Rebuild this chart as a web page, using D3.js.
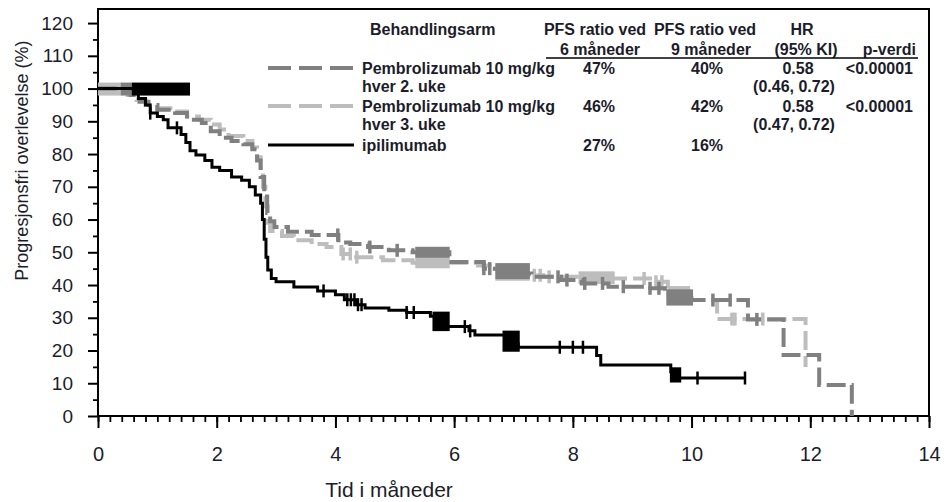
<!DOCTYPE html>
<html>
<head>
<meta charset="utf-8">
<script src="https://cdn.jsdelivr.net/npm/d3@7"></script>
<style>
  body { margin: 0; background: #fff; }
  svg { display: block; font-family: "Liberation Sans", Arial, sans-serif; }
</style>
</head>
<body>
<svg id="chart" width="948" height="502"></svg>
<script>
// Kaplan-Meier steps: [month, % progression free]
const pembroQ2wSteps = [
  [0, 100], [0.55, 98], [0.7, 96], [0.85, 95], [1.0, 93.5], [1.3, 92.5], [1.5, 90.5],
  [1.75, 89.5], [1.9, 87], [2.05, 85], [2.25, 84], [2.45, 83], [2.6, 81.5], [2.68, 78],
  [2.74, 73], [2.8, 67], [2.85, 62], [2.9, 59.5], [2.97, 57.7], [3.2, 56.3], [3.6, 55.3],
  [4.05, 53], [4.25, 52.5], [4.55, 51.6], [4.9, 50.6], [5.3, 50], [5.92, 47], [6.5, 45],
  [6.75, 43.5], [7.3, 42.5], [7.8, 41.5], [8.15, 40.5], [8.6, 39.5], [9.2, 39], [9.55, 37],
  [9.8, 35.4], [10.95, 29.5], [11.55, 18.6], [12.15, 9.5], [12.7, 0]
];
const pembroQ3wSteps = [
  [0, 100], [0.5, 98], [0.65, 96.5], [0.8, 95], [1.0, 94], [1.3, 93], [1.5, 91.5],
  [1.7, 90.5], [1.9, 89], [2.05, 87.5], [2.2, 85.5], [2.45, 84], [2.6, 82], [2.68, 79],
  [2.74, 75], [2.78, 70], [2.82, 64], [2.86, 59], [2.9, 56.5], [3.1, 55], [3.3, 53.7],
  [3.6, 52.5], [3.85, 51.6], [4.1, 49.5], [4.35, 48.5], [4.8, 47.6], [5.3, 46.8], [6.4, 46],
  [6.6, 45], [6.8, 44], [7.1, 43], [7.5, 42.5], [8.4, 42], [9.3, 41], [9.6, 38], [9.8, 36],
  [10.0, 35.4], [10.43, 29.6], [11.92, 15]
];
const ipiSteps = [
  [0, 100], [0.6, 98.5], [0.68, 97], [0.8, 95], [0.88, 92.5], [1.0, 91.5], [1.1, 90.5],
  [1.18, 88], [1.4, 86], [1.48, 83.5], [1.55, 81], [1.65, 79.7], [1.8, 78], [1.92, 76],
  [2.05, 75], [2.25, 73], [2.42, 72], [2.55, 70], [2.65, 67.5], [2.74, 65], [2.77, 60],
  [2.8, 54], [2.83, 48.5], [2.86, 44.6], [2.92, 42], [3.0, 41], [3.3, 39.4], [3.7, 38.2],
  [4.0, 37], [4.15, 35.5], [4.35, 34], [4.5, 33], [4.9, 32.3], [5.2, 31.6], [5.6, 30.5],
  [5.75, 29], [5.88, 27.3], [6.25, 26], [6.35, 24.7], [6.85, 23.5], [6.95, 22], [7.08, 21],
  [8.4, 18.5], [8.47, 15.6], [9.65, 13.5], [9.78, 11.6], [10.9, 11.6]
];

// censored observations (single ticks) and dense clusters [from, to]
const pembroQ2wCensor = [4.04, 4.58, 5.04, 6.5, 6.6, 7.75, 7.9, 8.2, 8.5, 8.85, 9.3, 9.45, 10.36, 10.65, 11.1];
const pembroQ3wCensor = [4.13, 4.25, 4.36, 7.35, 7.45, 7.6, 9.2, 9.4, 9.5, 10.68, 10.73, 11.2];
const ipiCensor = [0.88, 1.33, 3.8, 4.2, 4.26, 4.32, 4.38, 4.44, 5.2, 5.32, 6.18, 6.27,
  7.78, 8.0, 8.17, 10.1, 10.9];
const pembroQ2wClusters = [[5.37, 5.9], [6.72, 7.25], [9.6, 10.0]];
const pembroQ3wClusters = [[5.37, 5.9], [6.72, 7.25], [8.12, 8.68], [9.62, 9.95]];
const ipiClusters = [[5.66, 5.9], [6.84, 7.08], [9.66, 9.8]];
// blocks of early censoring drawn at the 100 % level
const earlyBlocks = [
  { arm: "q3w", from: 0.0, to: 0.38, level: 100 },
  { arm: "q2w", from: 0.38, to: 0.57, level: 100 },
  { arm: "ipi", from: 0.57, to: 1.55, level: 100 }
];

const xTicks = [0, 2, 4, 6, 8, 10, 12, 14];
const yTicks = [0, 10, 20, 30, 40, 50, 60, 70, 80, 90, 100, 110, 120];

const headerRow1 = ["Behandlingsarm", "PFS ratio ved", "PFS ratio ved", "HR"];
const headerRow2 = ["6 måneder", "9 måneder", "(95% KI)", "p-verdi"];
const armLabels = [["Pembrolizumab 10 mg/kg", "hver 2. uke"], ["Pembrolizumab 10 mg/kg", "hver 3. uke"], ["ipilimumab"]];
const pfs6 = ["47%", "46%", "27%"];
const pfs9 = ["40%", "42%", "16%"];
const hr = ["0.58", "0.58", ""];
const hrCI = ["(0.46, 0.72)", "(0.47, 0.72)", ""];
const pValue = ["<0.00001", "<0.00001", ""];

const arms = {
  q2w: { steps: pembroQ2wSteps, censor: pembroQ2wCensor, clusters: pembroQ2wClusters, color: "#808080", width: 4, dash: "19,6", half: 5.5 },
  q3w: { steps: pembroQ3wSteps, censor: pembroQ3wCensor, clusters: pembroQ3wClusters, color: "#bdbdbd", width: 4, dash: "19,6", half: 5.5 },
  ipi: { steps: ipiSteps, censor: ipiCensor, clusters: ipiClusters, color: "#000000", width: 3, dash: null, half: 4.5 }
};
const drawOrder = ["q3w", "q2w", "ipi"];
const legendOrder = ["q2w", "q3w", "ipi"];

const margin = { top: 9, right: 19, bottom: 86, left: 98 };
const svg = d3.select("#chart");
const width = 948 - margin.left - margin.right;
const height = 502 - margin.top - margin.bottom;

const x = d3.scaleLinear().domain([0, 14]).range([0, width]);
const y = d3.scaleLinear().domain([0, 124.3]).range([height, 0]);

const g = svg.append("g").attr("transform", `translate(${margin.left},${margin.top})`);

function survAt(steps, t) {
  let s = steps[0][1];
  for (const [tt, v] of steps) { if (tt <= t) s = v; else break; }
  return s;
}

// frame
g.append("rect")
  .attr("width", width).attr("height", height)
  .attr("fill", "none").attr("stroke", "#000").attr("stroke-width", 2);

// minor ticks
g.append("g")
  .attr("transform", `translate(0,${height})`)
  .call(d3.axisBottom(x).tickValues(d3.range(0, 14.001, 0.2)).tickSize(6).tickFormat(""))
  .call(a => a.select(".domain").remove())
  .call(a => a.selectAll("line").attr("stroke-width", 1.8));
g.append("g")
  .call(d3.axisLeft(y).tickValues(d3.range(5, 121, 10)).tickSize(5).tickFormat(""))
  .call(a => a.select(".domain").remove())
  .call(a => a.selectAll("line").attr("stroke-width", 1.8));

// major ticks
g.append("g")
  .attr("transform", `translate(0,${height})`)
  .call(d3.axisBottom(x).tickValues(xTicks).tickSize(12).tickPadding(19))
  .call(a => a.select(".domain").remove())
  .call(a => a.selectAll("line").attr("stroke-width", 2))
  .call(a => a.selectAll("text").attr("font-size", 20).attr("fill", "#1c1c2a")
    .attr("font-family", "Liberation Sans, Arial, sans-serif"));
g.append("g")
  .call(d3.axisLeft(y).tickValues(yTicks).tickSize(10).tickPadding(15))
  .call(a => a.select(".domain").remove())
  .call(a => a.selectAll("line").attr("stroke-width", 2))
  .call(a => a.selectAll("text").attr("font-size", 19).attr("fill", "#1c1c2a")
    .attr("font-family", "Liberation Sans, Arial, sans-serif"));

// axis titles
svg.append("text")
  .attr("x", 389).attr("y", 497)
  .attr("text-anchor", "middle").attr("font-size", 21).attr("fill", "#1c1c2a")
  .text("Tid i måneder");
svg.append("text")
  .attr("transform", `translate(28,${margin.top + y(78)}) rotate(-90)`)
  .attr("text-anchor", "middle").attr("font-size", 18).attr("fill", "#1c1c2a")
  .text("Progresjonsfri overlevelse (%)");

const line = d3.line().x(d => x(d[0])).y(d => y(d[1])).curve(d3.curveStepAfter);

drawOrder.forEach(key => {
  const arm = arms[key];
  const grp = g.append("g");
  grp.append("path")
    .attr("d", line(arm.steps))
    .attr("fill", "none")
    .attr("stroke", arm.color)
    .attr("stroke-width", arm.width)
    .attr("stroke-dasharray", arm.dash);

  grp.selectAll(".censor")
    .data(arm.censor)
    .join("line")
    .attr("class", "censor")
    .attr("x1", d => x(d)).attr("x2", d => x(d))
    .attr("y1", d => y(survAt(arm.steps, d)) - 6.5)
    .attr("y2", d => y(survAt(arm.steps, d)) + 6.5)
    .attr("stroke", arm.color)
    .attr("stroke-width", arm.width - 0.5);

  grp.selectAll(".cluster")
    .data(arm.clusters)
    .join("rect")
    .attr("class", "cluster")
    .attr("x", d => x(d[0]) - 1.5)
    .attr("width", d => x(d[1]) - x(d[0]) + 3)
    .attr("y", d => y(survAt(arm.steps, d[0])) - arm.half)
    .attr("height", d => y(survAt(arm.steps, d[1])) - y(survAt(arm.steps, d[0])) + 2 * arm.half)
    .attr("fill", arm.color);

  grp.selectAll(".early")
    .data(earlyBlocks.filter(b => b.arm === key))
    .join("rect")
    .attr("class", "early")
    .attr("x", d => x(d.from))
    .attr("width", d => x(d.to) - x(d.from))
    .attr("y", d => y(d.level) - 6)
    .attr("height", 13)
    .attr("fill", arm.color);
});

// legend table
const legend = svg.append("g")
  .attr("font-size", 16).attr("font-weight", "bold").attr("fill", "#1c1c2a");
const h1y = 29, h2y = 49;
const colPfs6 = 595, colPfs9 = 705, colHr = 800, colP = 916;
legend.append("text").attr("x", 370).attr("y", h1y).attr("dy", "0.35em").text(headerRow1[0]);
legend.append("text").attr("x", colPfs6).attr("y", h1y).attr("dy", "0.35em").attr("text-anchor", "middle").text(headerRow1[1]);
legend.append("text").attr("x", colPfs9).attr("y", h1y).attr("dy", "0.35em").attr("text-anchor", "middle").text(headerRow1[2]);
legend.append("text").attr("x", colHr + 2).attr("y", h1y).attr("dy", "0.35em").attr("text-anchor", "middle").text(headerRow1[3]);
legend.append("text").attr("x", colPfs6 + 5).attr("y", h2y).attr("dy", "0.35em").attr("text-anchor", "middle").text(headerRow2[0]);
legend.append("text").attr("x", colPfs9 + 6).attr("y", h2y).attr("dy", "0.35em").attr("text-anchor", "middle").text(headerRow2[1]);
legend.append("text").attr("x", colHr + 6).attr("y", h2y).attr("dy", "0.35em").attr("text-anchor", "middle").text(headerRow2[2]);
legend.append("text").attr("x", colP).attr("y", h2y).attr("dy", "0.35em").attr("text-anchor", "end").text(headerRow2[3]);
legend.append("line")
  .attr("x1", 546).attr("x2", 918).attr("y1", 58).attr("y2", 58)
  .attr("stroke", "#000").attr("stroke-width", 1.5);

const rowY = [68, 106, 145];
legendOrder.forEach((key, i) => {
  const arm = arms[key];
  const ry = rowY[i];
  legend.append("line")
    .attr("x1", 268).attr("x2", 354).attr("y1", ry).attr("y2", ry)
    .attr("stroke", arm.color).attr("stroke-width", arm.width)
    .attr("stroke-dasharray", arm.dash ? "23,8" : null);
  armLabels[i].forEach((t, j) => {
    legend.append("text").attr("x", 362).attr("y", ry + j * 18).attr("dy", "0.35em").text(t);
  });
  legend.append("text").attr("x", colPfs6 + 4).attr("y", ry).attr("dy", "0.35em").attr("text-anchor", "middle").text(pfs6[i]);
  legend.append("text").attr("x", colPfs9 + 2).attr("y", ry).attr("dy", "0.35em").attr("text-anchor", "middle").text(pfs9[i]);
  legend.append("text").attr("x", colHr - 2).attr("y", ry).attr("dy", "0.35em").attr("text-anchor", "middle").text(hr[i]);
  legend.append("text").attr("x", colP - 3).attr("y", ry).attr("dy", "0.35em").attr("text-anchor", "end").text(pValue[i]);
  legend.append("text").attr("x", colHr - 6).attr("y", ry + 18).attr("dy", "0.35em").attr("text-anchor", "middle").text(hrCI[i]);
});
</script>
</body>
</html>
